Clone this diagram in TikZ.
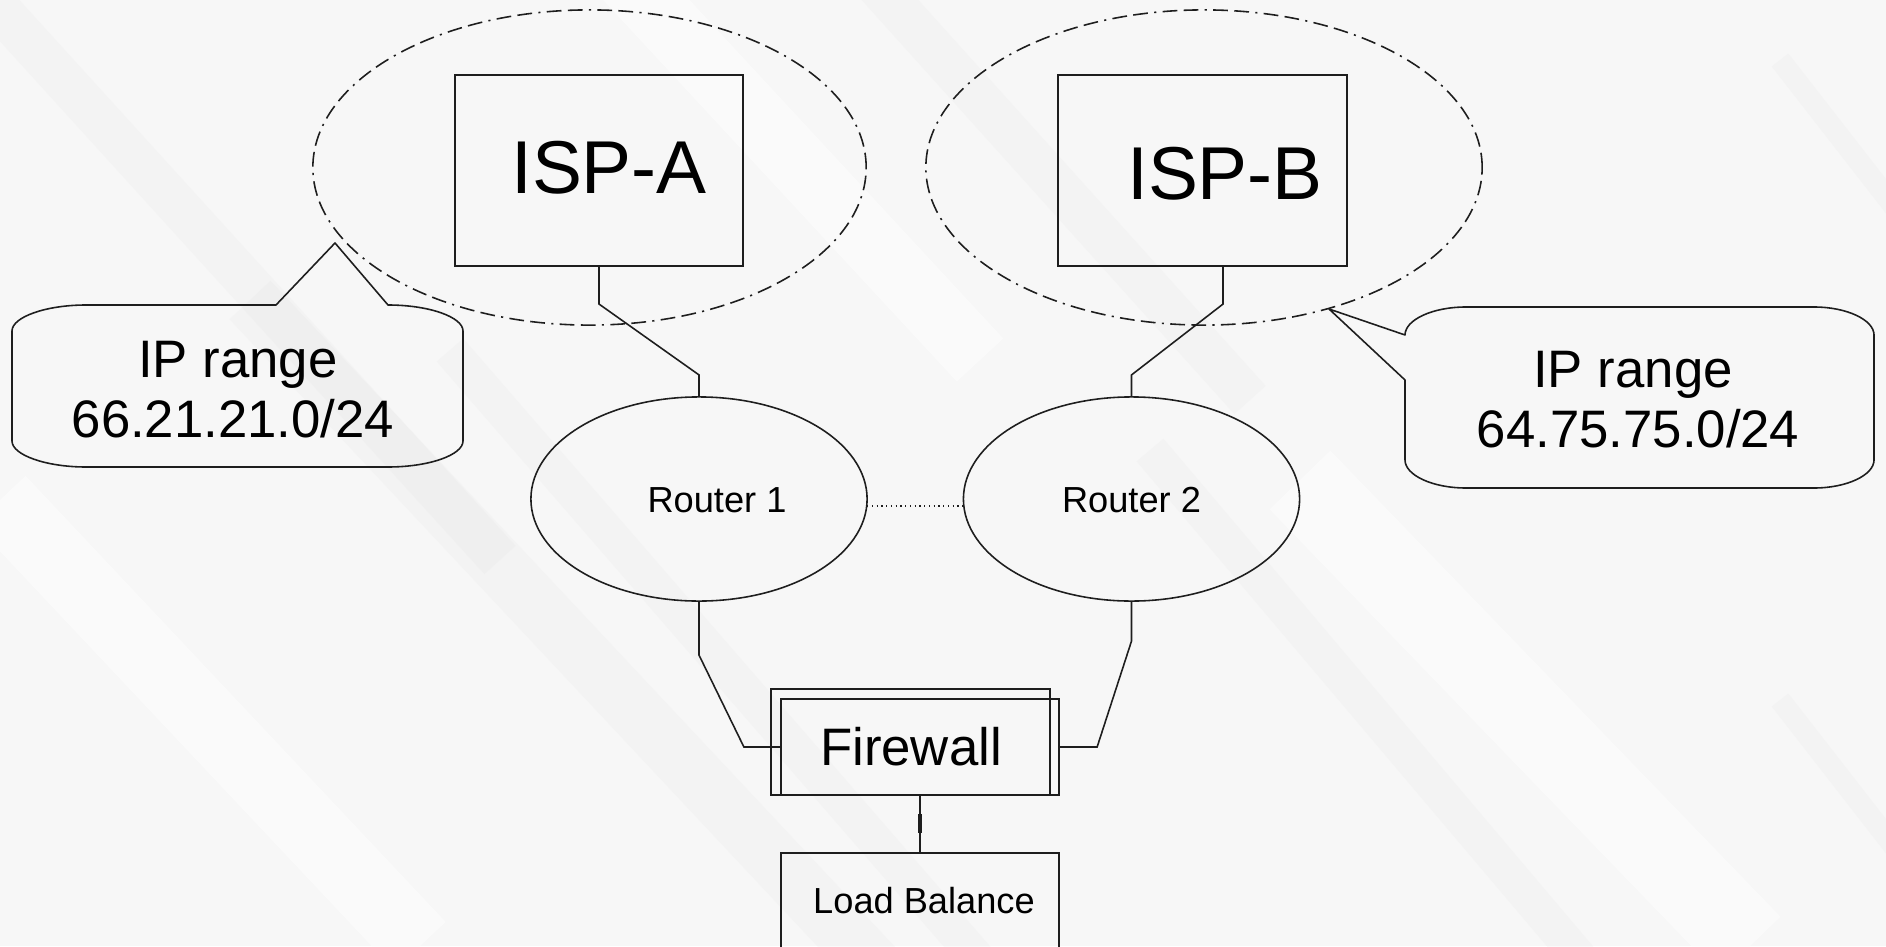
\documentclass[tikz,border=0pt]{standalone}
\usepackage{fontspec}
\setmainfont{Liberation Sans}
\usetikzlibrary{shapes.geometric}
\definecolor{paper}{RGB}{247,247,247}
\definecolor{streak}{RGB}{225,225,225}
\definecolor{sheen}{RGB}{253,253,253}
\definecolor{ink}{RGB}{30,30,30}
\begin{document}
\begin{tikzpicture}[x=0.01cm,y=-0.01cm,
  wire/.style={draw=ink,line width=0.45pt},
  stepbox/.style={draw=ink,line width=0.45pt,rectangle,inner sep=0pt,outer sep=0pt},
  zone/.style={draw=ink,line width=0.45pt,ellipse,inner sep=0pt,outer sep=0pt,
    dash pattern=on 4.2pt off 1.8pt on 4.2pt off 1.8pt on 0.6pt off 1.8pt},
  router/.style={draw=ink,line width=0.45pt,ellipse,inner sep=0pt,outer sep=0pt,
    minimum width=3.36cm,minimum height=2.04cm},
  bigtext/.style={inner sep=0pt,font=\fontsize{21.3pt}{25pt}\selectfont},
  midtext/.style={inner sep=0pt,font=\fontsize{15pt}{18pt}\selectfont},
  smalltext/.style={inner sep=0pt,font=\fontsize{10.3pt}{12pt}\selectfont},
  callout/.style={draw=ink,line width=0.45pt,line join=round}]

\clip (0,0) rectangle (1886,946);
\fill[paper] (0,0) rectangle (1886,946);

% faint brushed streaks in the backdrop, running off the page
\begin{scope}[opacity=0.18]
  \draw[streak,line width=16pt] (250,300) -- (1000,1100);
  \draw[streak,line width=10pt] (450,350) -- (1100,1100);
  \draw[streak,line width=12pt] (-100,-100) -- (500,560);
  \draw[streak,line width=10pt] (1150,450) -- (1700,1100);
  \draw[streak,line width=12pt] (800,-100) -- (1250,400);
  \draw[streak,line width=6pt] (1780,60) -- (1990,330);
  \draw[streak,line width=6pt] (1780,700) -- (1990,970);
\end{scope}
\begin{scope}[opacity=0.6]
  \draw[sheen,line width=20pt] (0,500) -- (420,946);
  \draw[sheen,line width=24pt] (1300,480) -- (1750,946);
  \draw[sheen,line width=18pt] (600,-50) -- (980,360);
\end{scope}

% provider zones and provider boxes
\node[zone,minimum width=5.53cm,minimum height=3.15cm] (zoneA) at (589.5,167.5) {};
\node[zone,minimum width=5.56cm,minimum height=3.15cm] (zoneB) at (1204,167.5) {};
\node[stepbox,minimum width=2.88cm,minimum height=1.91cm] (ispa) at (599,170.5) {};
\node[stepbox,minimum width=2.89cm,minimum height=1.91cm] (ispb) at (1202.5,170.5) {};
\node[bigtext,anchor=base] (ispalabel) at (609,194) {ISP-A};
\node[bigtext,anchor=base] (ispblabel) at (1225,200) {ISP-B};

% routers
\node[router] (r1) at (699,499) {};
\node[router] (r2) at (1131.5,499) {};
\node[smalltext,anchor=base] (r1label) at (717,512) {Router 1};
\node[smalltext,anchor=base] (r2label) at (1131.5,512) {Router 2};

% firewall (double outline) and load balancer
\node[stepbox,minimum width=2.79cm,minimum height=1.06cm] (fwback) at (910.5,742) {};
\node[stepbox,minimum width=2.78cm,minimum height=0.96cm] (fw) at (920,747) {};
\node[midtext,anchor=base] (fwlabel) at (911,765) {Firewall};
\node[stepbox,minimum width=2.78cm,minimum height=1.47cm] (lb) at (920,926.5) {};
\node[smalltext,anchor=base] (lblabel) at (924,913) {Load Balance};

% links
\draw[wire] (ispa.south) -- ++(0,38) -- ([yshift=0.22cm]r1.north) -- (r1.north);
\draw[wire] ([xshift=0.205cm]ispb.south) -- ++(0,38) -- ([yshift=0.22cm]r2.north) -- (r2.north);
\draw[wire] (r1.south) -- ++(0,54) -- ([xshift=-0.37cm]fw.west) -- (fw.west);
\draw[wire] (r2.south) -- ++(0,40) -- ([xshift=0.38cm]fw.east) -- (fw.east);
\draw[wire] (fw.south) -- (lb.north);
\draw[ink,line width=1pt] ([yshift=-0.19cm]fw.south) -- ([yshift=-0.38cm]fw.south);
\draw[ink,line width=0.35pt,densely dotted] ([yshift=-0.07cm]r1.east) -- ([yshift=-0.07cm]r2.west);

% address callouts
\coordinate (tipA) at (335,243);
\coordinate (tipB) at (1329,309);
\draw[callout] (276,305) -- (tipA) -- (388,305)
  .. controls (429,305) and (463,317) .. (463,331) -- (463,441)
  .. controls (463,455) and (429,467) .. (388,467) -- (86,467)
  .. controls (46,467) and (12,455) .. (12,441) -- (12,331)
  .. controls (12,317) and (46,305) .. (86,305) -- cycle;
\node[midtext,anchor=base] (rangeA1) at (238,377) {IP range};
\node[midtext,anchor=base] (rangeA2) at (233,437) {66.21.21.0/24};

\draw[callout] (1405,380) -- (tipB) -- (1405,335)
  .. controls (1405,320) and (1432,307) .. (1466,307) -- (1814,307)
  .. controls (1847,307) and (1874,320) .. (1874,335) -- (1874,460)
  .. controls (1874,475) and (1847,488) .. (1814,488) -- (1466,488)
  .. controls (1432,488) and (1405,475) .. (1405,460) -- cycle;
\node[midtext,anchor=base] (rangeB1) at (1633,387) {IP range};
\node[midtext,anchor=base] (rangeB2) at (1638,447) {64.75.75.0/24};
\end{tikzpicture}
\end{document}
